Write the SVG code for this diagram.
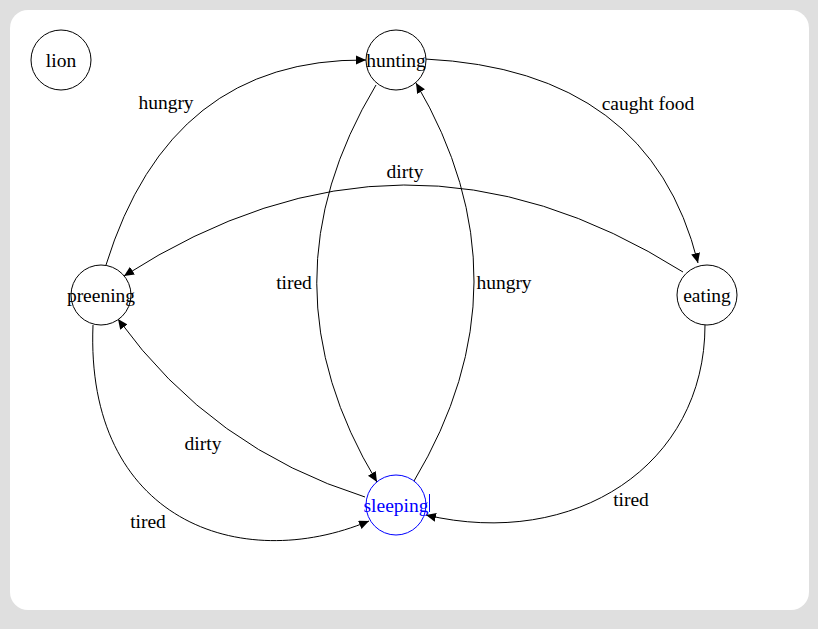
<svg xmlns="http://www.w3.org/2000/svg" width="818" height="629" viewBox="0 0 818 629">
<style>
.node circle{fill:#fff;stroke:#000;stroke-width:1}
.node text,.lbl{font-family:"Liberation Serif","Times New Roman",serif;font-size:19.5px;fill:#000;text-anchor:middle}
.edges path{fill:none;stroke:#000;stroke-width:1;marker-end:url(#arrow)}
#sleeping circle{stroke:#0000ff}
#sleeping text{fill:#0000ff}
</style>
<defs>
<marker id="arrow" markerUnits="userSpaceOnUse" markerWidth="11" markerHeight="10" refX="10" refY="4.5" orient="auto">
<path d="M0,0 L10,4.5 L0,9 z" fill="#000"/>
</marker>
</defs>
<rect x="0" y="0" width="818" height="629" fill="#dfdfdf"/>
<rect x="10" y="10" width="799" height="600" rx="18" fill="#fff"/>
<g class="edges" id="edges">
<path d="M106,265 Q170,58 366,60"/>
<path d="M425,59 Q650,70 698,263"/>
<path d="M683,272 Q404,96 124,276"/>
<path d="M376,85 Q257,283 377,482"/>
<path d="M414,481 Q533,282 416,83"/>
<path d="M365,497 Q212,449 118,319"/>
<path d="M93,325 C85,520 240,575 369,521"/>
<path d="M705,325 C705,465 575,550 426,515"/>
</g>
<g id="labels">
<text class="lbl" x="166" y="109">hungry</text>
<text class="lbl" x="648" y="110">caught food</text>
<text class="lbl" x="405" y="178">dirty</text>
<text class="lbl" x="294" y="289">tired</text>
<text class="lbl" x="504" y="289">hungry</text>
<text class="lbl" x="203" y="450">dirty</text>
<text class="lbl" x="148" y="528">tired</text>
<text class="lbl" x="631" y="506">tired</text>
</g>
<g class="node" id="lion"><circle cx="61" cy="60" r="30"/><text x="61" y="66.5">lion</text></g>
<g class="node" id="hunting"><circle cx="396" cy="60" r="30"/><text x="396" y="66.5">hunting</text></g>
<g class="node" id="preening"><circle cx="101" cy="295" r="30"/><text x="101" y="301.5">preening</text></g>
<g class="node" id="eating"><circle cx="707" cy="295" r="30"/><text x="707" y="301.5">eating</text></g>
<g class="node" id="sleeping"><circle cx="396" cy="505" r="30"/><text x="396" y="511.5">sleeping</text><line x1="429.5" y1="494" x2="429.5" y2="512" stroke="#0000ff" stroke-width="1"/></g>
</svg>
